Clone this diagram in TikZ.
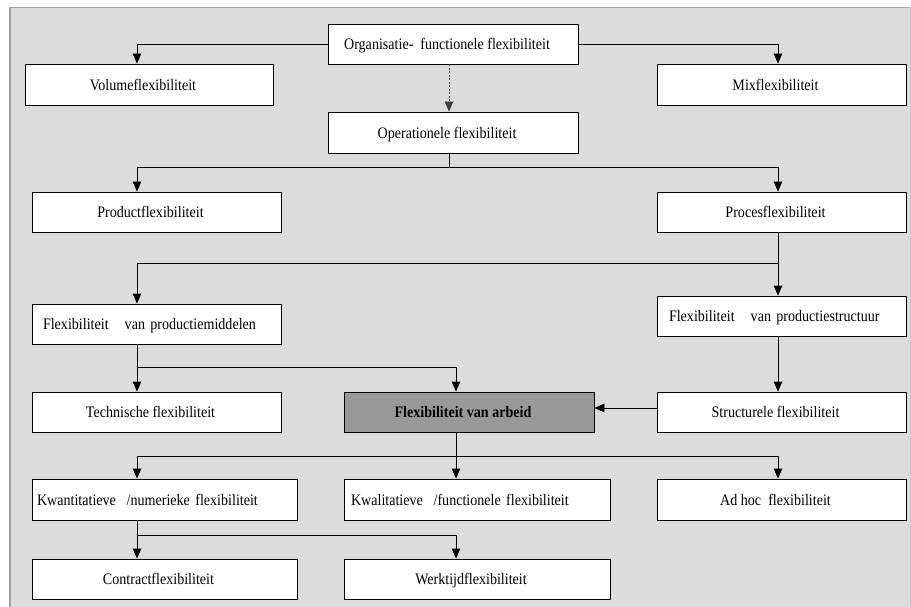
\documentclass[tikz,border=0pt]{standalone}
\usepackage{fontspec}
\setmainfont{Liberation Serif}[FakeStretch=0.88]
\usetikzlibrary{arrows.meta}
\definecolor{panel}{HTML}{DCDCDC}
\definecolor{rim}{HTML}{A4A4A4}
\definecolor{keyfill}{HTML}{999999}
\tikzset{
  boxbase/.style={draw, fill=white, line width=0.8pt, minimum height=40pt,
    inner sep=0pt, text height=13.5pt, text depth=2pt,
    font=\fontsize{16}{18}\selectfont},
  box/.style={boxbase, execute at end node=\hspace*{12pt}},
  lbox/.style={boxbase, align=left},
  conn/.style={line width=0.8pt},
  arr/.style={conn, -{Triangle[width=8.5pt,length=10pt]}},
}
\begin{document}
\begin{tikzpicture}[x=1pt,y=-1pt]
\useasboundingbox (0,0) rectangle (911,607);
\fill[white] (0,0) rectangle (911,607);
\fill[panel] (10,7) rectangle (911,607);
\draw[rim, line width=1.2pt] (10,607) -- (10,7.5) -- (911,7.5);
\draw[rim!60, line width=0.6pt] (910,7.5) -- (910,607);

% level 1
\node[box, minimum width=250pt] (org) at (453,44) {Organisatie-\ \ functionele flexibiliteit};
\node[box, minimum width=248pt, minimum height=41pt] (vol) at (149,84.5) {Volumeflexibiliteit};
\node[box, minimum width=249pt, minimum height=41pt] (mix) at (781.5,84.5) {Mixflexibiliteit};
\node[box, minimum width=250pt, minimum height=41pt] (oper) at (453,132.5) {Operationele flexibiliteit};

% level 2
\node[box, minimum width=249pt] (prod) at (156.5,212) {Productflexibiliteit};
\node[box, minimum width=249pt] (proc) at (781.5,212) {Procesflexibiliteit};

% level 3
\node[lbox, minimum width=249pt, text width=227pt, inner xsep=11pt] (mid) at (156.5,324)
  {Flexibiliteit\ \ \ van productiemiddelen};
\node[lbox, minimum width=249pt, text width=225pt, inner xsep=12pt] (struc) at (781.5,316)
  {Flexibiliteit\ \ \ van productiestructuur};

% level 4
\node[box, minimum width=249pt] (tech) at (156.5,412) {Technische flexibiliteit};
\node[box, minimum width=250pt, fill=keyfill, font=\fontsize{16}{18}\selectfont\bfseries] (arb) at (469,412)
  {Flexibiliteit van arbeid};
\node[box, minimum width=249pt] (strl) at (781.5,412) {Structurele flexibiliteit};

% level 5
\node[lbox, minimum width=265pt, minimum height=41pt, text width=255pt, inner xsep=5pt] (kwant) at (164.5,499.5)
  {Kwantitatieve\ \ /numerieke flexibiliteit};
\node[lbox, minimum width=266pt, minimum height=41pt, text width=252pt, inner xsep=7pt] (kwal) at (477,499.5)
  {Kwalitatieve\ \ /functionele flexibiliteit};
\node[box, minimum width=249pt, minimum height=41pt] (adhoc) at (781.5,499.5) {Ad hoc\ \ flexibiliteit};

% level 6
\node[box, minimum width=265pt] (contr) at (164.5,579) {Contractflexibiliteit};
\node[box, minimum width=266pt] (werk) at (477,579) {Werktijdflexibiliteit};

% connectors
\draw[arr] (org.west) -| ([xshift=-12pt]vol.north);
\draw[arr] (org.east) -| ([xshift=-3.5pt]mix.north);
\draw[arr, black!75, dash pattern=on 2pt off 1.5pt] ([xshift=-4pt]org.south) -- ([xshift=-4pt]oper.north);

\draw[arr] ([xshift=-4pt]oper.south) -- ++(0,14) -| ([xshift=-19.5pt]prod.north);
\draw[arr] ([xshift=-4pt]oper.south) -- ++(0,14) -| ([xshift=-3.5pt]proc.north);

\draw[arr] ([xshift=-3.5pt]proc.south) -- ([xshift=-3.5pt]struc.north);
\draw[arr] ([xshift=-3.5pt]proc.south) -- ++(0,31) -| ([xshift=-19.5pt]mid.north);

\draw[arr] ([xshift=-3.5pt]struc.south) -- ([xshift=-3.5pt]strl.north);
\draw[arr] ([yshift=4pt]strl.west) -- ([yshift=4pt]arb.east);

\draw[arr] ([xshift=-19.5pt]mid.south) -- ([xshift=-19.5pt]tech.north);
\draw[arr] ([xshift=-19.5pt]mid.south) -- ++(0,23) -| ([xshift=-13pt]arb.north);

\draw[arr] ([xshift=-13pt]arb.south) -- ([xshift=-21pt]kwal.north);
\draw[arr] ([xshift=-13pt]arb.south) -- ++(0,24) -| ([xshift=-27.5pt]kwant.north);
\draw[arr] ([xshift=-13pt]arb.south) -- ++(0,24) -| ([xshift=-3.5pt]adhoc.north);

\draw[arr] ([xshift=-27.5pt]kwant.south) -- ([xshift=-27.5pt]contr.north);
\draw[arr] ([xshift=-27.5pt]kwant.south) -- ++(0,15) -| ([xshift=-21pt]werk.north);
\end{tikzpicture}
\end{document}
